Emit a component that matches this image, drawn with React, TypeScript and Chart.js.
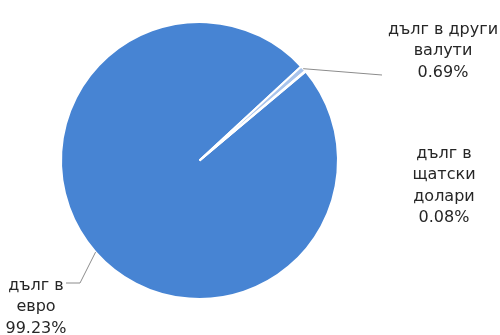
import React, { useEffect, useRef } from "react";
import { Chart, registerables } from "chart.js";

Chart.register(...registerables);

// ---- data ----
const categories = ["дълг в евро", "дълг в други валути", "дълг в щатски долари"];
const shares = [99.23, 0.69, 0.08];
const labelLines = [["дълг в", "евро"], ["дълг в други", "валути"], ["дълг в", "щатски", "долари"]];
const sliceColors = ["#4784D3", "#A9C4EC", "#3A70BA"];

// ---- layout of data labels (text centre x, first baseline, leader elbow points) ----
const LABEL_LAYOUT = [
  { cx: 36, baseline: 289.5, leader: [[80, 283], [66, 283]] as number[][] },
  { cx: 443, baseline: 33.5, leader: [[382, 75]] as number[][] },
  { cx: 444, baseline: 157.5, leader: null as number[][] | null },
];
const LINE_HEIGHT = 21.5;
const FONT = "16px 'DejaVu Sans'";

const labelPlugin = {
  id: "sliceLabels",
  afterDatasetsDraw(chart: any) {
    const ctx = chart.ctx as CanvasRenderingContext2D;
    const meta = chart.getDatasetMeta(0);
    meta.data.forEach((arc: any, i: number) => {
      const p = arc.getProps(["x", "y", "startAngle", "endAngle", "outerRadius"], true);
      const mid = (p.startAngle + p.endAngle) / 2;
      const ex = p.x + Math.cos(mid) * p.outerRadius;
      const ey = p.y + Math.sin(mid) * p.outerRadius;
      const lay = LABEL_LAYOUT[i];
      ctx.save();
      if (lay.leader) {
        ctx.strokeStyle = "#8C8C8C";
        ctx.lineWidth = 1;
        ctx.beginPath();
        ctx.moveTo(ex, ey);
        lay.leader.forEach(([px, py]) => ctx.lineTo(px, py));
        ctx.stroke();
      }
      ctx.fillStyle = "#262626";
      ctx.font = FONT;
      ctx.textAlign = "center";
      ctx.textBaseline = "alphabetic";
      const lines = [...labelLines[i], shares[i].toFixed(2) + "%"];
      lines.forEach((t, k) => ctx.fillText(t, lay.cx, lay.baseline + k * LINE_HEIGHT));
      ctx.restore();
    });
  },
};

export default function App() {
  const ref = useRef<HTMLCanvasElement>(null);
  useEffect(() => {
    if (!ref.current) return;
    const chart = new Chart(ref.current, {
      type: "pie",
      data: {
        labels: categories,
        datasets: [
          {
            data: shares,
            backgroundColor: sliceColors,
            borderColor: "#FFFFFF",
            borderWidth: 2,
          },
        ],
      },
      options: {
        responsive: false,
        animation: false,
        rotation: 50,
        layout: { padding: { left: 60, right: 161, top: 21, bottom: 35 } },
        plugins: {
          legend: { display: false },
          tooltip: { enabled: false },
          title: { display: false },
        },
      },
      plugins: [labelPlugin],
    });
    return () => chart.destroy();
  }, []);
  return (
    <div style={{ position: "fixed", left: 0, top: 0, width: 500, height: 335, background: "#fff" }}>
      <canvas ref={ref} width={500} height={335} style={{ width: 500, height: 335 }} />
    </div>
  );
}
